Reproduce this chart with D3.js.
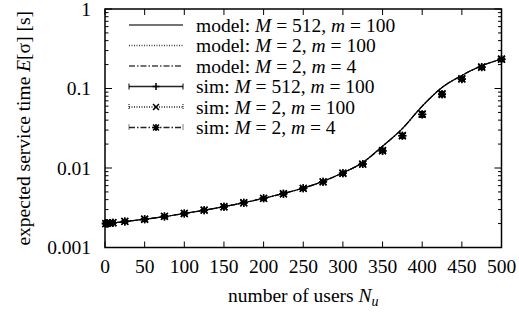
<!DOCTYPE html>
<html>
<head>
<meta charset="utf-8">
<script src="https://cdn.jsdelivr.net/npm/d3@7"></script>
<style>
  body { margin: 0; background: #fff; }
  text { font-family: 'Liberation Serif', 'DejaVu Serif', serif; }
</style>
</head>
<body>
<div id="chart"></div>
<script>
// model curves (all three coincide)
var modelN = [0, 25, 50, 75, 100, 125, 150, 175, 200, 225, 250, 275, 300, 325, 350, 375, 400, 425, 450, 475, 500];
var model512_100 = [0.00199, 0.00212, 0.00227, 0.00245, 0.00268, 0.00294, 0.00326, 0.00366, 0.00416, 0.00478, 0.0056, 0.0068, 0.0087, 0.0117, 0.0188, 0.0313, 0.060, 0.103, 0.146, 0.193, 0.235];
var model2_100 = [0.00199, 0.00212, 0.00227, 0.00245, 0.00268, 0.00294, 0.00326, 0.00366, 0.00416, 0.00478, 0.0056, 0.0068, 0.0087, 0.0117, 0.0188, 0.0313, 0.060, 0.103, 0.146, 0.193, 0.235];
var model2_4 = [0.00199, 0.00212, 0.00227, 0.00245, 0.00268, 0.00294, 0.00326, 0.00366, 0.00416, 0.00478, 0.0056, 0.0068, 0.0087, 0.0117, 0.0188, 0.0313, 0.060, 0.103, 0.146, 0.193, 0.235];

// simulation points
var simN = [1, 3, 6, 10, 25, 50, 75, 100, 125, 150, 175, 200, 225, 250, 275, 300, 325, 350, 375, 400, 425, 450, 475, 500];
var sim512_100 = [0.002, 0.00201, 0.00203, 0.00205, 0.00213, 0.00227, 0.00246, 0.00268, 0.00295, 0.00325, 0.00365, 0.00415, 0.00474, 0.00555, 0.0067, 0.0086, 0.0112, 0.0165, 0.0255, 0.0475, 0.085, 0.132, 0.186, 0.234];
var sim2_100 = [0.002, 0.00201, 0.00203, 0.00205, 0.00213, 0.00227, 0.00246, 0.00268, 0.00295, 0.00325, 0.00365, 0.00415, 0.00474, 0.00555, 0.0067, 0.0086, 0.0112, 0.0166, 0.0256, 0.0478, 0.086, 0.133, 0.187, 0.235];
var sim2_4 = [0.002, 0.00201, 0.00203, 0.00205, 0.00213, 0.00227, 0.00246, 0.00268, 0.00295, 0.00325, 0.00365, 0.00415, 0.00474, 0.00555, 0.0067, 0.0086, 0.0112, 0.0164, 0.0254, 0.0472, 0.084, 0.131, 0.185, 0.233];
var simErr = [0.00004, 0.00004, 0.00004, 0.00004, 0.00005, 0.00005, 0.00006, 0.00006, 0.00007, 0.00008, 0.00009, 0.0001, 0.00012, 0.00014, 0.00018, 0.00025, 0.0004, 0.0008, 0.0016, 0.0035, 0.005, 0.006, 0.006, 0.006];

var xTicks = [0, 50, 100, 150, 200, 250, 300, 350, 400, 450, 500];
var yTicks = [0.001, 0.01, 0.1, 1];
var yTickLabels = ["0.001", "0.01", "0.1", "1"];

var width = 519, height = 314;
var margin = {top: 9, right: 17.5, bottom: 66.5, left: 105};
var serif = "'Liberation Serif', 'DejaVu Serif', serif";

var svg = d3.select("#chart").append("svg")
  .attr("width", width)
  .attr("height", height)
  .attr("font-family", serif);

var x = d3.scaleLinear().domain([0, 500]).range([margin.left, width - margin.right]);
var y = d3.scaleLog().domain([0.001, 1]).range([height - margin.bottom, margin.top]);

var fs = 19.5;

// minor log ticks
var minors = [];
[0.001, 0.01, 0.1].forEach(function(d) {
  for (var k = 2; k <= 9; k++) minors.push(d * k);
});

var g = svg.append("g");

// left + right axes ticks (inside)
[x.range()[0], x.range()[1]].forEach(function(px, side) {
  var dir = side == 0 ? 1 : -1;
  g.selectAll(null).data(yTicks).enter().append("line")
    .attr("x1", px).attr("x2", px + dir * 7)
    .attr("y1", function(d) { return y(d); }).attr("y2", function(d) { return y(d); })
    .attr("stroke", "#000").attr("stroke-width", 1);
  g.selectAll(null).data(minors).enter().append("line")
    .attr("x1", px).attr("x2", px + dir * 3.5)
    .attr("y1", function(d) { return y(d); }).attr("y2", function(d) { return y(d); })
    .attr("stroke", "#000").attr("stroke-width", 1);
});

// bottom + top ticks
[y.range()[0], y.range()[1]].forEach(function(py, side) {
  var dir = side == 0 ? -1 : 1;
  g.selectAll(null).data(xTicks).enter().append("line")
    .attr("x1", function(d) { return x(d); }).attr("x2", function(d) { return x(d); })
    .attr("y1", py).attr("y2", py + dir * 6)
    .attr("stroke", "#000").attr("stroke-width", 1);
});

// tick labels
g.selectAll(null).data(xTicks).enter().append("text")
  .attr("x", function(d) { return x(d); })
  .attr("y", y.range()[0] + 25)
  .attr("text-anchor", "middle")
  .attr("font-family", serif)
  .attr("font-size", fs)
  .text(function(d) { return d; });

g.selectAll(null).data(yTicks).enter().append("text")
  .attr("x", margin.left - 14)
  .attr("y", function(d) { return y(d) + 6.5; })
  .attr("text-anchor", "end")
  .attr("font-family", serif)
  .attr("font-size", fs)
  .text(function(d, i) { return yTickLabels[i]; });

// axis titles
var xt = svg.append("text")
  .attr("x", (x.range()[0] + x.range()[1]) / 2)
  .attr("y", 302)
  .attr("text-anchor", "middle")
  .attr("font-family", serif)
  .attr("font-size", fs);
xt.append("tspan").text("number of users ");
xt.append("tspan").attr("font-style", "italic").text("N");
xt.append("tspan").attr("font-style", "italic").attr("font-size", 14).attr("dy", 4).text("u");

var yt = svg.append("text")
  .attr("transform", "translate(30," + ((y.range()[0] + y.range()[1]) / 2) + ") rotate(-90)")
  .attr("text-anchor", "middle")
  .attr("font-family", serif)
  .attr("font-size", fs);
yt.append("tspan").text("expected service time ");
yt.append("tspan").attr("font-style", "italic").text("E");
yt.append("tspan").text("[σ] [s]");

// model lines
var line = d3.line()
  .x(function(d) { return x(d[0]); })
  .y(function(d) { return y(d[1]); })
  .curve(d3.curveMonotoneX);

var models = [
  {vals: model2_4, dash: "6,2,1.5,2"},
  {vals: model2_100, dash: "1,1.5"},
  {vals: model512_100, dash: null}
];
var plot = svg.append("g");
models.forEach(function(m) {
  plot.append("path")
    .datum(modelN.map(function(n, i) { return [n, m.vals[i]]; }))
    .attr("d", line)
    .attr("fill", "none")
    .attr("stroke", "#000")
    .attr("stroke-width", 1.2)
    .attr("stroke-dasharray", m.dash);
});

// markers
function marker(sel, type, cx, cy, s) {
  var p, c = s * 0.85;
  var plus = "M" + (cx - s) + "," + cy + "H" + (cx + s) + "M" + cx + "," + (cy - s) + "V" + (cy + s);
  var cross = "M" + (cx - c) + "," + (cy - c) + "L" + (cx + c) + "," + (cy + c) + "M" + (cx - c) + "," + (cy + c) + "L" + (cx + c) + "," + (cy - c);
  if (type == "plus") p = plus;
  else if (type == "cross") p = cross;
  else p = plus + cross;
  sel.append("path").attr("d", p).attr("stroke", "#000").attr("stroke-width", 1.5).attr("fill", "none");
}

var sims = [
  {vals: sim512_100, type: "plus"},
  {vals: sim2_100, type: "cross"},
  {vals: sim2_4, type: "star"}
];
sims.forEach(function(s) {
  simN.forEach(function(n, i) {
    var cx = x(n), v = s.vals[i], e = simErr[i];
    var y1 = y(v - e), y2 = y(v + e);
    plot.append("path")
      .attr("d", "M" + cx + "," + y1 + "V" + y2 + "M" + (cx - 3) + "," + y1 + "H" + (cx + 3) + "M" + (cx - 3) + "," + y2 + "H" + (cx + 3))
      .attr("stroke", "#000").attr("stroke-width", 1.3).attr("fill", "none");
    marker(plot, s.type, cx, y(v), 4);
  });
});

// frame
svg.append("rect")
  .attr("x", x.range()[0]).attr("y", y.range()[1])
  .attr("width", x.range()[1] - x.range()[0])
  .attr("height", y.range()[0] - y.range()[1])
  .attr("fill", "none").attr("stroke", "#000").attr("stroke-width", 1.5);

// legend
var legendItems = [
  {kind: "model", M: "512", m: "100", dash: null},
  {kind: "model", M: "2", m: "100", dash: "1,1.5"},
  {kind: "model", M: "2", m: "4", dash: "6,2,1.5,2"},
  {kind: "sim", M: "512", m: "100", dash: null, type: "plus"},
  {kind: "sim", M: "2", m: "100", dash: "1,1.5", type: "cross"},
  {kind: "sim", M: "2", m: "4", dash: "6,2,1.5,2", type: "star"}
];
var lg = svg.append("g");
var lx0 = 129, lx1 = 183, ly0 = 25, lstep = 20.5;
legendItems.forEach(function(d, i) {
  var ly = ly0 + i * lstep;
  lg.append("line")
    .attr("x1", lx0).attr("x2", lx1).attr("y1", ly).attr("y2", ly)
    .attr("stroke", d.kind == "model" ? "#444" : "#222")
    .attr("stroke-width", 1.4)
    .attr("stroke-dasharray", d.dash);
  if (d.kind == "sim") {
    lg.append("path")
      .attr("d", "M" + lx0 + "," + (ly - 3) + "V" + (ly + 3) + "M" + lx1 + "," + (ly - 3) + "V" + (ly + 3))
      .attr("stroke", "#000").attr("stroke-width", 1)
      .attr("stroke-dasharray", d.dash ? "1,1" : null);
    marker(lg, d.type, (lx0 + lx1) / 2, ly, 3.5);
  }
  var t = lg.append("text")
    .attr("x", 196).attr("y", ly + 6.5)
    .attr("font-family", serif)
    .attr("font-size", fs);
  t.append("tspan").text(d.kind + ": ");
  t.append("tspan").attr("font-style", "italic").text("M");
  t.append("tspan").text(" = " + d.M + ", ");
  t.append("tspan").attr("font-style", "italic").text("m");
  t.append("tspan").text(" = " + d.m);
});
</script>
</body>
</html>
